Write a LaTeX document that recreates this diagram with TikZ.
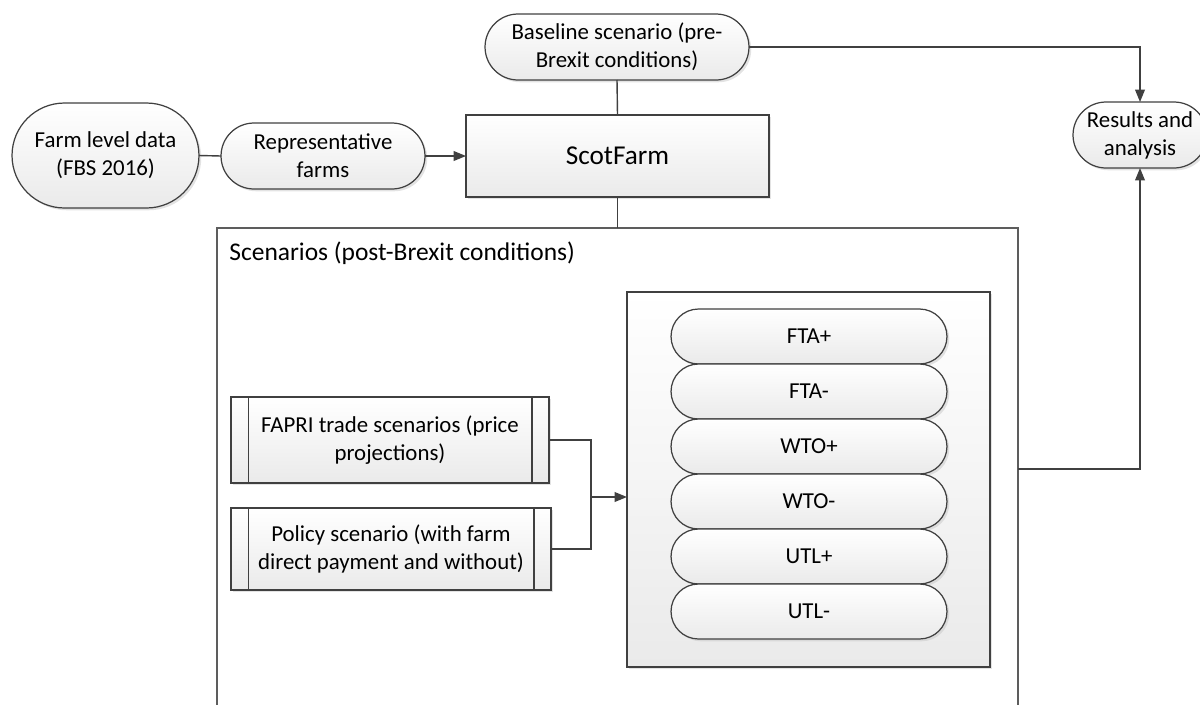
\documentclass[tikz,border=0pt]{standalone}
\usepackage{fontspec}
\setmainfont{Carlito}
\usetikzlibrary{shapes.misc,shadows,arrows.meta}
\definecolor{edge}{HTML}{404040}
\definecolor{shadeend}{HTML}{EAEAEA}
\tikzset{
  base/.style={draw=edge, line width=0.7pt, inner sep=0pt, outer sep=0pt, align=center,
    font=\fontsize{13}{16}\selectfont, top color=white, bottom color=shadeend,
    drop shadow={shadow xshift=1.3pt, shadow yshift=-1.3pt, fill=black!22, opacity=0.5}},
  pill/.style={base, rounded rectangle},
  boxnode/.style={base, rectangle},
  conn/.style={draw=edge, line width=0.8pt},
  arr/.style={conn, -{Triangle[length=7pt,width=5.5pt]}},
}
\begin{document}
\begin{tikzpicture}[x=0.02cm, y=-0.02cm]
\useasboundingbox (0,0) rectangle (1200,704);
\begin{scope}
\clip (0,0) rectangle (1200,704);
% big scenarios box
\node[draw=edge!85, line width=0.7pt, inner sep=0pt, outer sep=0pt, minimum width=16.02cm, minimum height=10.24cm] (big) at (617.5,484) {};
\node[anchor=west, inner sep=0pt, font=\fontsize{14.5}{17}\selectfont] (biglabel) at (229,253) {Scenarios (post-Brexit conditions)};

% top nodes
\node[pill, minimum width=5.28cm, minimum height=1.32cm] (baseline) at (617,47) {Baseline scenario (pre-\\Brexit conditions)};
\node[pill, minimum width=3.74cm, minimum height=2.10cm] (farm) at (105.5,155.5) {Farm level data\\(FBS 2016)};
\node[pill, minimum width=4.08cm, minimum height=1.32cm] (rep) at (323,156) {Representative\\farms};
\node[boxnode, minimum width=6.06cm, minimum height=1.64cm, font=\fontsize{15.5}{18}\selectfont] (scot) at (617.5,156) {ScotFarm};
\node[pill, minimum width=2.68cm, minimum height=1.32cm] (results) at (1140,135) {Results and\\analysis};

% inner box with scenarios
\node[boxnode, minimum width=7.26cm, minimum height=7.50cm] (inner) at (808.5,479.5) {};
\foreach \t [count=\i from 0] in {FTA+,FTA-,WTO+,WTO-,UTL+,UTL-}{
  \node[pill, minimum width=5.52cm, minimum height=1.10cm] (p\i) at (809,{336.5+55*\i}) {\t};
}

% process boxes
\node[boxnode, minimum width=6.36cm, minimum height=1.72cm] (fapri) at (390,440) {FAPRI trade scenarios (price\\projections)};
\node[boxnode, minimum width=6.40cm, minimum height=1.64cm] (policy) at (391,549) {Policy scenario (with farm\\direct payment and without)};
\foreach \n in {fapri,policy}{
  \draw[draw=edge, line width=0.6pt] ([xshift=0.34cm]\n.north west) -- ([xshift=0.34cm]\n.south west);
  \draw[draw=edge, line width=0.6pt] ([xshift=-0.34cm]\n.north east) -- ([xshift=-0.34cm]\n.south east);
}

% connectors
\draw[conn] (farm.east) -- (rep.west);
\draw[arr] (rep.east) -- (scot.west);
\draw[conn] (baseline.south) -- (scot.north);
\draw[conn] (scot.south) -- (big.north -| scot.south);
\coordinate (bj) at (1140,47);
\draw[arr] (baseline.east) -- (bj) -- (results.north);
\coordinate (jn) at (591,497);
\coordinate (innerin) at (627,497);
\draw[conn] (fapri.east) -| (jn);
\draw[conn] (policy.east) -| (jn);
\draw[arr] (jn) -- (innerin);
\coordinate (bigout) at (1018,469);
\coordinate (rj) at (1140,469);
\draw[arr] (bigout) -- (rj) -- (results.south);
\end{scope}
\end{tikzpicture}
\end{document}
